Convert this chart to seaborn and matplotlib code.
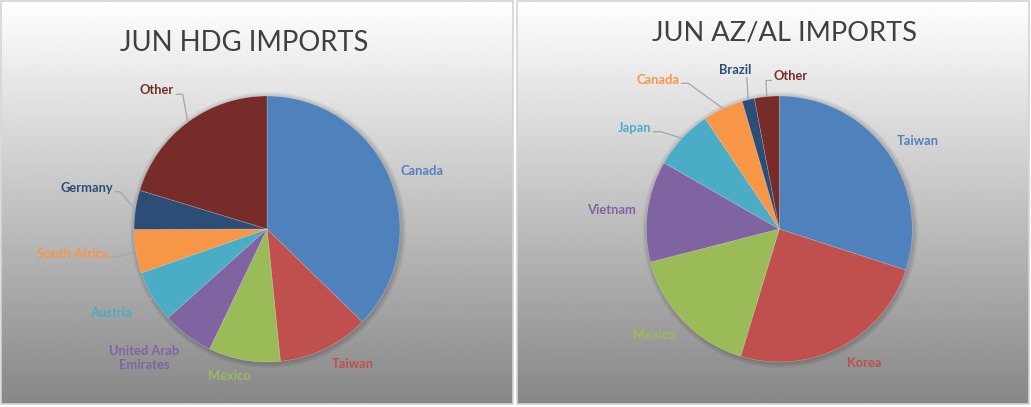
import numpy as np
import pandas as pd
from matplotlib import pyplot as plt
from matplotlib.patches import Rectangle
import seaborn as sns

# JUN HDG imports (share of total)
hdg_countries = ['Canada', 'Taiwan', 'Mexico', 'United Arab\nEmirates', 'Austria',
                 'South Africa', 'Germany', 'Other']
hdg_share = [37.3, 11.1, 8.7, 6.25, 6.3, 5.3, 4.75, 20.3]

# JUN AZ/AL imports (share of total)
azal_countries = ['Taiwan', 'Korea', 'Mexico', 'Vietnam', 'Japan', 'Canada', 'Brazil', 'Other']
azal_share = [30.0, 24.7, 16.3, 12.3, 7.3, 4.9, 1.5, 3.0]

office = ['#4F81BD', '#C0504D', '#9BBB59', '#8064A2', '#4BACC6', '#F79646', '#2C4D75', '#772C2A']

sns.set_theme(style='white')
plt.rcParams['font.family'] = ['Lato', 'DejaVu Sans']

W, H = 1031, 407
fig = plt.figure(figsize=(W / 100, H / 100), dpi=100)
ax = fig.add_axes([0, 0, 1, 1])
ax.set_xlim(0, W)
ax.set_ylim(0, H)
ax.axis('off')

# panel backgrounds: white -> grey gradient
grad = np.linspace(1.0, 0.53, 256).reshape(-1, 1)
for x0, x1 in [(1, 513), (517, 1029)]:
    ax.imshow(grad, cmap='gray', vmin=0, vmax=1, extent=(x0, x1, 3, H - 1),
              aspect='auto', zorder=0, interpolation='bilinear')
    ax.add_patch(Rectangle((x0, 3), x1 - x0, H - 4, fill=False, ec='#d4d4d4', lw=1.2, zorder=1))


def draw_panel(values, names, center, radius, title, title_xy, title_size, label_xy, leaders):
    cx, cy = center[0], H - center[1]
    df = pd.DataFrame({'name': names, 'value': values})
    # soft shadow
    for k in range(5):
        ax.add_patch(plt.Circle((cx + 1, cy - 1), radius + 1 + k, color='black',
                                alpha=0.035, lw=0, zorder=2))
    wedges, _ = ax.pie(df['value'], colors=office, startangle=90, counterclock=False,
                       center=(cx, cy), radius=radius, frame=True,
                       wedgeprops=dict(linewidth=0.4, edgecolor='#ffffff55'))
    for w in wedges:
        w.set_zorder(3)
    ax.text(title_xy[0], H - title_xy[1], title, ha='center', va='center',
            fontsize=title_size, color='#404040', zorder=5)
    for i, (w, nm) in enumerate(zip(wedges, df['name'])):
        lx, ly = label_xy[i]
        ax.text(lx, H - ly, nm, ha='center', va='center', fontsize=9.3,
                fontweight='bold', color=office[i], linespacing=1.15, zorder=5)
        if leaders[i] is not None:
            mid = np.deg2rad((w.theta1 + w.theta2) / 2)
            sx = cx + radius * np.cos(mid)
            sy = cy + radius * np.sin(mid)
            pts = [(sx, sy)] + [(px, H - py) for px, py in leaders[i]]
            xs, ys = zip(*pts)
            ax.plot(xs, ys, color='#a6a6a6', lw=0.9, zorder=4, solid_capstyle='butt')


draw_panel(hdg_share, hdg_countries, (267, 229), 133, 'JUN HDG IMPORTS', (244, 43), 19.8,
           [(421.7, 171), (352.8, 364.5), (229.7, 376), (144.6, 358), (110.8, 312.8),
            (73, 253.8), (86.7, 188.5), (156.8, 90.5)],
           [None, None, None, None,
            [(140.7, 316), (133.3, 316)],
            [(118.3, 257), (110, 257)],
            [(120, 191.7), (114.3, 191.7)],
            [(182.7, 94.3), (175.7, 94.3)]])

draw_panel(azal_share, azal_countries, (779.3, 229), 133, 'JUN AZ/AL IMPORTS', (785, 33), 19.6,
           [(918, 141), (863.8, 363.2), (654, 335), (611.7, 210.3), (634.7, 127.7),
            (657.8, 80), (735.5, 69.8), (790.3, 76.3)],
           [None, None, None, None,
            [(660.7, 131.7), (652.7, 131.7)],
            [(688.3, 83.3), (681, 83.3)],
            [(746.7, 77)],
            [(766, 80.5), (771.7, 80.5)]])

ax.set_xlim(0, W)
ax.set_ylim(0, H)
ax.set_aspect('auto')
ax.axis('off')
fig.savefig('out.png', dpi=100)
